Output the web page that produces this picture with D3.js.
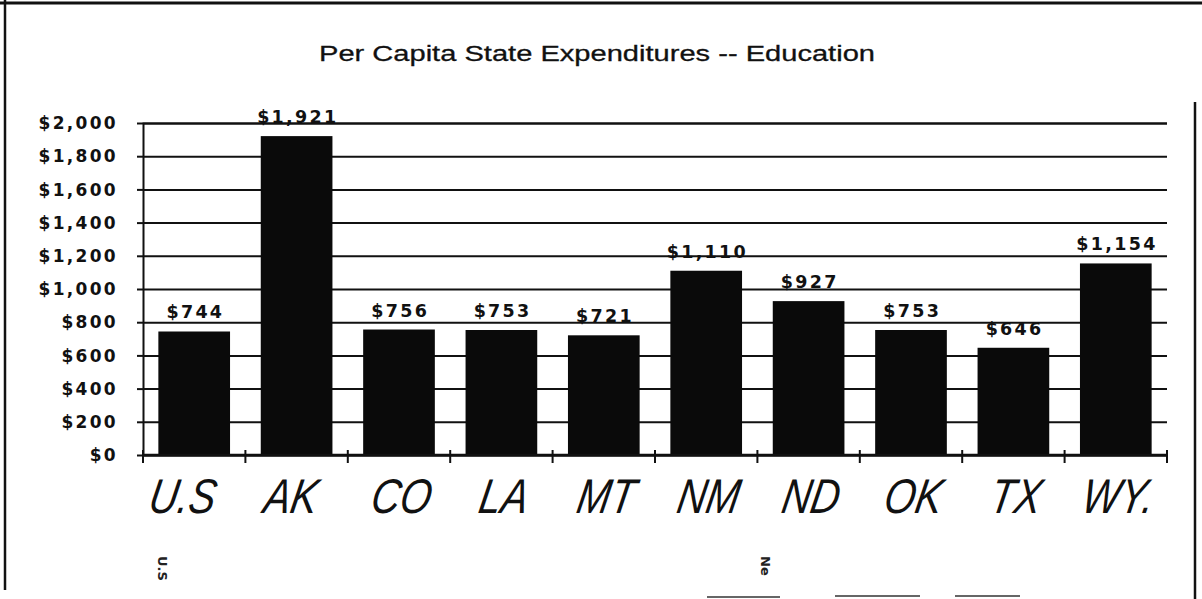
<!DOCTYPE html>
<html>
<head>
<meta charset="utf-8">
<script src="https://cdn.jsdelivr.net/npm/d3@7"></script>
<style>
  html, body { margin: 0; padding: 0; background: #fff; }
  svg { display: block; }
</style>
</head>
<body>
<svg id="chart" width="1202" height="599"></svg>
<script>
// ---- data ----
const title = "Per Capita State Expenditures -- Education";
const categories = ["U.S", "AK", "CO", "LA", "MT", "NM", "ND", "OK", "TX", "WY."];
const values = [744, 1921, 756, 753, 721, 1110, 927, 753, 646, 1154];
const yTicks = [0, 200, 400, 600, 800, 1000, 1200, 1400, 1600, 1800, 2000];

// ---- layout ----
const W = 1202, H = 599;
const plotL = 143, plotR = 1167, plotT = 123, plotB = 455;

const svg = d3.select("#chart");
svg.append("rect").attr("width", W).attr("height", H).attr("fill", "#fff");

const x = d3.scaleBand().domain(categories).range([plotL, plotR])
  .paddingInner(0.3).paddingOuter(0.15);
const y = d3.scaleLinear().domain([0, 2000]).range([plotB, plotT]);
const fmt = d3.format("$,");

// page frame from the scan
const frame = svg.append("g").attr("stroke", "#111").attr("fill", "none");
frame.append("line").attr("x1", 0).attr("x2", W).attr("y1", 3).attr("y2", 3).attr("stroke-width", 3);
frame.append("line").attr("x1", 5).attr("x2", 5).attr("y1", 0).attr("y2", 590).attr("stroke-width", 2.5);
frame.append("line").attr("x1", 1195).attr("x2", 1195).attr("y1", 102).attr("y2", H).attr("stroke-width", 2.5);

// title
svg.append("text")
  .attr("x", 597).attr("y", 61)
  .attr("text-anchor", "middle")
  .attr("font-family", "Liberation Sans, Arial, sans-serif")
  .attr("font-size", 22)
  .attr("fill", "#111")
  .attr("stroke", "#111").attr("stroke-width", 0.3)
  .attr("textLength", 556).attr("lengthAdjust", "spacingAndGlyphs")
  .text(title);

// gridlines (y axis with full-width ticks)
const yAxis = d3.axisLeft(y).tickValues(yTicks).tickSize(-(plotR - plotL)).tickFormat("");
const gy = svg.append("g").attr("transform", `translate(${plotL},0)`).call(yAxis);
gy.select(".domain").attr("stroke", "#111").attr("stroke-width", 2);
gy.selectAll(".tick line").attr("stroke", "#111").attr("stroke-width", 2);
// small left stubs
const yStub = d3.axisLeft(y).tickValues(yTicks).tickSize(6).tickFormat("");
const gs = svg.append("g").attr("transform", `translate(${plotL},0)`).call(yStub);
gs.select(".domain").remove();
gs.selectAll(".tick line").attr("stroke", "#111").attr("stroke-width", 2);

// y tick labels
svg.append("g").selectAll("text").data(yTicks).join("text")
  .attr("x", 118).attr("y", d => y(d))
  .attr("dy", "0.36em")
  .attr("text-anchor", "end")
  .attr("font-family", "DejaVu Sans, Verdana, sans-serif")
  .attr("font-weight", "bold")
  .attr("font-size", 17)
  .attr("letter-spacing", 2.3)
  .attr("fill", "#111")
  .text(d => fmt(d));

// bars
svg.append("g").selectAll("rect").data(values).join("rect")
  .attr("x", (d, i) => x(categories[i]))
  .attr("width", x.bandwidth())
  .attr("y", d => y(d))
  .attr("height", d => y(0) - y(d))
  .attr("fill", "#0a0a0a");

// value labels
svg.append("g").selectAll("text").data(values).join("text")
  .attr("x", (d, i) => x(categories[i]) + x.bandwidth() / 2 + 1.2)
  .attr("y", d => y(d) - 13)
  .attr("text-anchor", "middle")
  .attr("font-family", "DejaVu Sans, Verdana, sans-serif")
  .attr("font-weight", "bold")
  .attr("font-size", 17.5)
  .attr("letter-spacing", 2.3)
  .attr("fill", "#111")
  .text(d => fmt(d));

// x axis: baseline and tick marks at category boundaries
const step = x.step();
const bounds = d3.range(categories.length + 1).map(i => plotL + i * step);
const gx = svg.append("g");
gx.append("line").attr("x1", plotL).attr("x2", plotR).attr("y1", y(0)).attr("y2", y(0))
  .attr("stroke", "#111").attr("stroke-width", 2.5);
gx.selectAll("line.tk").data(bounds).join("line").attr("class", "tk")
  .attr("x1", d => d).attr("x2", d => d)
  .attr("y1", y(0) - 5).attr("y2", y(0) + 8)
  .attr("stroke", "#111").attr("stroke-width", 2);

// handwritten category labels
svg.append("g").selectAll("text").data(categories).join("text")
  .attr("transform", (d, i) => `translate(${x(d) + x.bandwidth() / 2 - (i === 0 ? 14 : i === 1 ? 8 : 0)},513) skewX(-10) scale(1.02,1.25)`)
  .attr("text-anchor", "middle")
  .attr("font-family", "Liberation Sans, Arial, sans-serif")
  .attr("font-style", "italic")
  .attr("font-size", 39)
  .attr("fill", "#111")
  .text(d => d);

// stray marks from the scanned page below the chart
svg.append("text").attr("transform", "translate(158,556) rotate(90)")
  .attr("font-family", "DejaVu Sans, sans-serif").attr("font-weight", "bold")
  .attr("font-size", 13).attr("fill", "#222").text("U.S");
svg.append("text").attr("transform", "translate(761,556) rotate(90)")
  .attr("font-family", "DejaVu Sans, sans-serif").attr("font-weight", "bold")
  .attr("font-size", 13).attr("fill", "#222").text("Ne");
const marks = svg.append("g").attr("stroke", "#333").attr("stroke-width", 1.5);
marks.append("line").attr("x1", 707).attr("x2", 780).attr("y1", 597).attr("y2", 597);
marks.append("line").attr("x1", 835).attr("x2", 920).attr("y1", 596).attr("y2", 596);
marks.append("line").attr("x1", 955).attr("x2", 1020).attr("y1", 596).attr("y2", 596);
</script>
</body>
</html>
